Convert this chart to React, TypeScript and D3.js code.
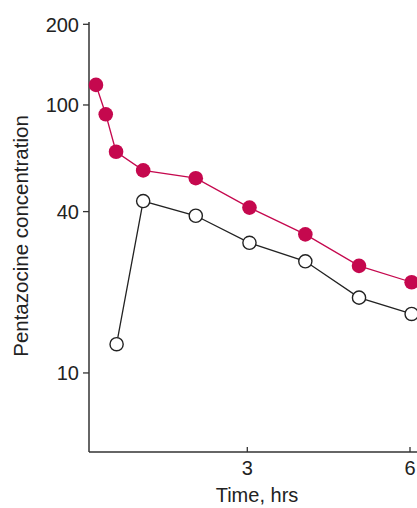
import React from "react";
import * as d3 from "d3";

const timesFilled = [0.21, 0.39, 0.58, 1.08, 2.05, 3.04, 4.07, 5.06, 6.03];
const valuesFilled = [118.8, 92.3, 66.9, 57.0, 53.3, 41.4, 32.9, 25.1, 21.8];
const timesOpen = [0.59, 1.08, 2.05, 3.04, 4.07, 5.06, 6.03];
const valuesOpen = [12.8, 43.8, 38.6, 30.6, 26.1, 19.1, 16.6];
const yTicks = [10, 40, 100, 200];
const xTicks = [3, 6];

const W = 417;
const H = 508;

export default function App() {
  const x = d3.scaleLinear().domain([0, 6]).range([84.6, 410]);
  const y = d3.scaleLog().domain([5.07, 204]).range([452, 22]);
  const axisX = 89;
  const axisY = 452;
  const line = d3
    .line<[number, number]>()
    .x((d) => x(d[0]))
    .y((d) => y(d[1]));
  const filled: [number, number][] = timesFilled.map((t, i) => [t, valuesFilled[i]]);
  const open: [number, number][] = timesOpen.map((t, i) => [t, valuesOpen[i]]);
  const red = "#C5084E";
  const font = "Liberation Sans, Arial, sans-serif";
  const axisColor = "#333";

  return (
    <svg
      width={W}
      height={H}
      style={{ position: "absolute", left: 0, top: 0, background: "#fff" }}
      fontFamily={font}
    >
      {/* axes */}
      <line x1={axisX} y1={y(204)} x2={axisX} y2={axisY} stroke={axisColor} strokeWidth={1.5} />
      <line x1={axisX} y1={axisY} x2={W} y2={axisY} stroke={axisColor} strokeWidth={1.5} />
      {yTicks.map((v) => (
        <g key={v}>
          <line x1={axisX - 6} x2={axisX} y1={y(v)} y2={y(v)} stroke={axisColor} strokeWidth={1.3} />
          <text
            x={79}
            y={y(v)}
            dy="0.36em"
            textAnchor="end"
            fontSize={20}
            fill="#222"
          >
            {v}
          </text>
        </g>
      ))}
      {xTicks.map((t) => (
        <g key={t}>
          <line x1={x(t)} x2={x(t)} y1={axisY} y2={axisY - 5} stroke={axisColor} strokeWidth={1.3} />
          <text x={x(t)} y={475} textAnchor="middle" fontSize={20} fill="#222">
            {t}
          </text>
        </g>
      ))}
      <text x={257} y={502} textAnchor="middle" fontSize={20} fill="#222">
        Time, hrs
      </text>
      <text
        transform={`translate(28, 236) rotate(-90)`}
        textAnchor="middle"
        fontSize={20.5}
        fill="#222"
      >
        Pentazocine concentration
      </text>

      {/* series lines */}
      <path d={line(filled) || ""} fill="none" stroke={red} strokeWidth={1.3} />
      <path d={line(open) || ""} fill="none" stroke="#222" strokeWidth={1.3} />

      {filled.map((d, i) => (
        <circle key={"f" + i} cx={x(d[0])} cy={y(d[1])} r={7.3} fill={red} />
      ))}
      {open.map((d, i) => (
        <circle
          key={"o" + i}
          cx={x(d[0])}
          cy={y(d[1])}
          r={6.6}
          fill="#fff"
          stroke="#222"
          strokeWidth={1.4}
        />
      ))}
    </svg>
  );
}
